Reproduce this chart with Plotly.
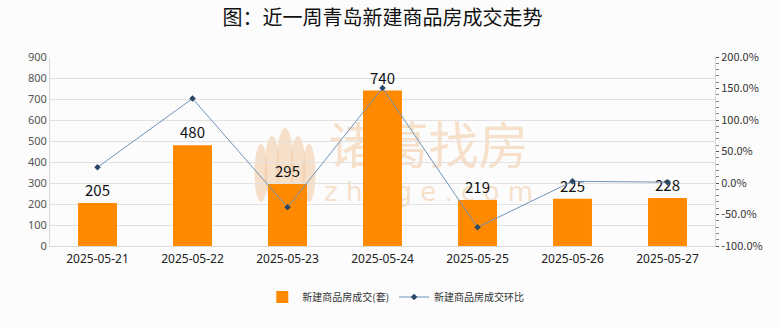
import plotly.graph_objects as go

dates = ["2025-05-21", "2025-05-22", "2025-05-23", "2025-05-24", "2025-05-25", "2025-05-26", "2025-05-27"]
volumes = [205, 480, 295, 740, 219, 225, 228]
ratio_pct = [25.0, 134.1, -38.5, 150.8, -70.4, 2.7, 1.3]
right_ticks = [-100, -50, 0, 50, 100, 150, 200]
right_labels = ["-100.0%", "-50.0%", "0.0%", "50.0%", "100.0%", "150.0%", "200.0%"]

W, H = 780, 328
L, R, T, B = 50, 65, 57, 82

def px(x):
    return (x - L) / (W - L - R)

def py(y):
    return (H - B - y) / (H - T - B)

fig = go.Figure()
fig.add_trace(go.Bar(
    x=dates, y=volumes, name="新建商品房成交(套)",
    marker=dict(color="#FF8A00", line=dict(width=0)),
    width=0.41,
    text=[str(v) for v in volumes], textposition="outside",
    textfont=dict(size=15, color="#111111"), cliponaxis=False,
))
fig.add_trace(go.Scatter(
    x=dates, y=ratio_pct, name="新建商品房成交环比", yaxis="y2",
    mode="lines+markers",
    line=dict(color="#6f93b8", width=1),
    marker=dict(symbol="diamond", size=5, color="#2b4766"),
))

peach = "rgba(240,200,160,0.55)"
shapes = []
# lotus-like logo petals (watermark)
for cx, w, h in [(261, 13, 58), (272, 15, 66), (285, 17, 74), (298, 15, 66), (309, 13, 58)]:
    shapes.append(dict(type="circle", xref="paper", yref="paper", layer="below",
                       x0=px(cx - w / 2), x1=px(cx + w / 2), y0=py(202), y1=py(202 - h),
                       fillcolor=peach, line=dict(width=0)))
shapes.append(dict(type="rect", xref="paper", yref="paper", layer="below",
                   x0=px(322), x1=px(535), y0=py(178), y1=py(122),
                   line=dict(width=0), fillcolor="rgba(0,0,0,0)",
                   label=dict(text="诸葛找房", font=dict(size=50, color=peach, family="Noto Sans CJK SC"))))
shapes.append(dict(type="rect", xref="paper", yref="paper", layer="below",
                   x0=px(322), x1=px(535), y0=py(202), y1=py(178),
                   line=dict(width=0), fillcolor="rgba(0,0,0,0)",
                   label=dict(text="z h u g e . c o m", font=dict(size=26, color=peach, family="DejaVu Sans"))))

fig.update_layout(
    width=W, height=H,
    margin=dict(l=L, r=R, t=T, b=B),
    paper_bgcolor="#fcfcfc", plot_bgcolor="#fcfcfc",
    font=dict(family="Noto Sans CJK SC, Noto Sans, sans-serif", color="#333333"),
    title=dict(text="图：近一周青岛新建商品房成交走势", x=0.5, xref="paper", xanchor="center",
               y=1 - 18 / H, yanchor="middle", yref="container",
               font=dict(size=20, color="#111111", family="Noto Sans CJK SC")),
    xaxis=dict(type="category", showgrid=False, showline=True, linecolor="#d9d9d9", linewidth=1,
               ticks="", tickfont=dict(size=12, color="#222222", family="Noto Sans"), ticklabelstandoff=2),
    yaxis=dict(range=[0, 900], dtick=100, showgrid=True, gridcolor="#e2e2e2", gridwidth=1,
               showline=True, linecolor="#d9d9d9", zeroline=False, ticks="",
               tickfont=dict(size=11, color="#555555", family="Noto Sans")),
    yaxis2=dict(overlaying="y", side="right", range=[-100, 200], tickvals=right_ticks,
                ticktext=right_labels, showgrid=False, zeroline=False,
                showline=True, linecolor="#d9d9d9", ticks="outside", ticklen=3, tickcolor="#555555",
                minor=dict(dtick=10, ticks="outside", ticklen=3, tickcolor="#888888"),
                tickfont=dict(size=11, color="#333333", family="Noto Sans CJK SC")),
    legend=dict(orientation="h", x=0.52, xanchor="center", y=py(297), yanchor="middle",
                font=dict(size=10, color="#333333"), bgcolor="rgba(0,0,0,0)", itemwidth=30),
    bargap=0.5,
    shapes=shapes,
)

fig.write_html("out.html")
